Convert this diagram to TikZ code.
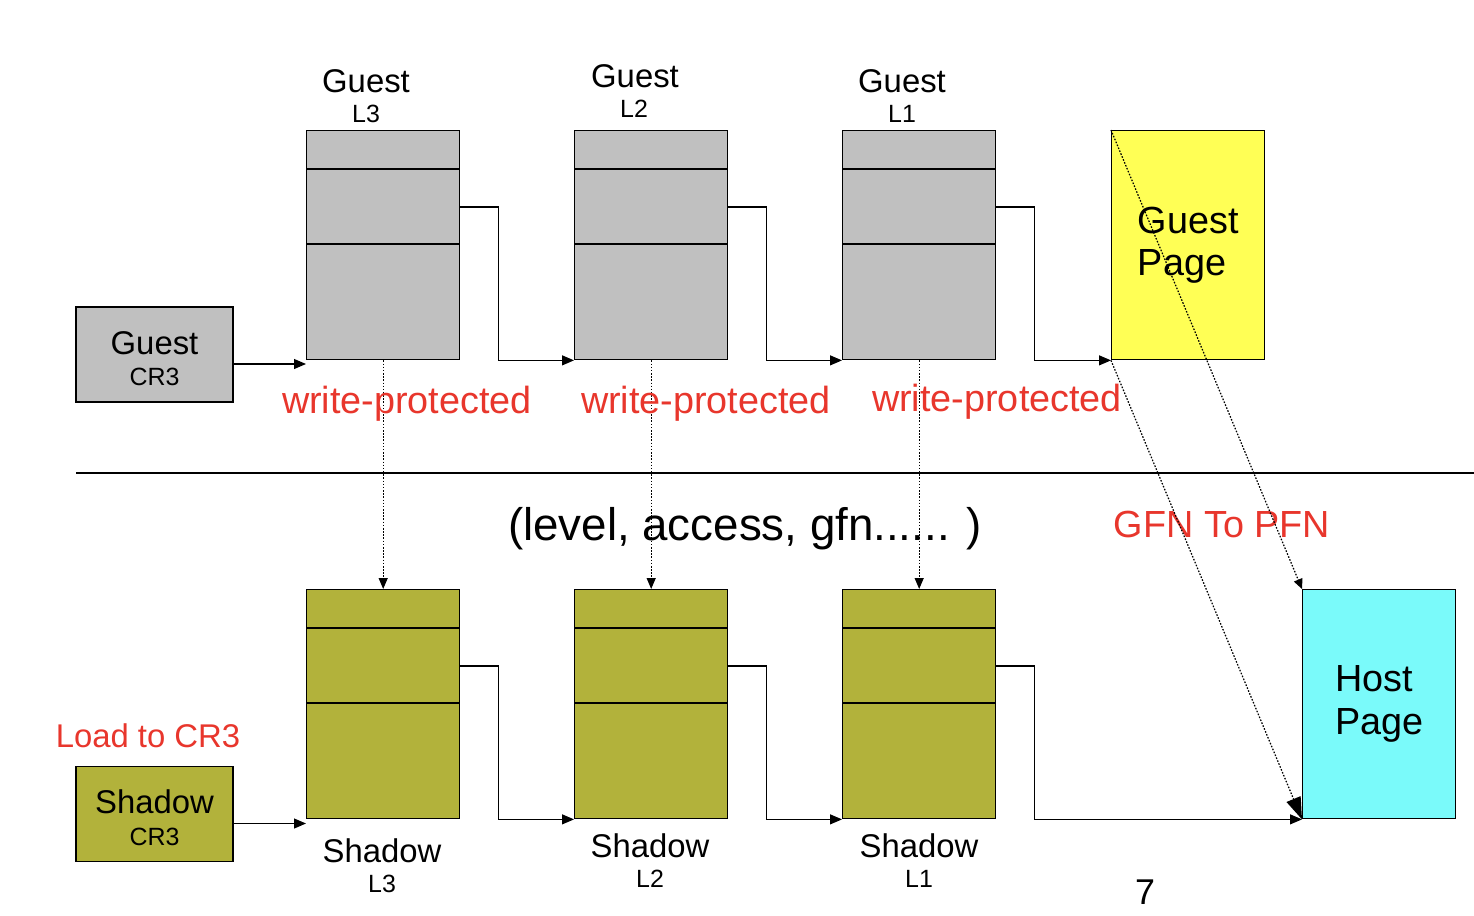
\documentclass[tikz,border=0pt]{standalone}
\usepackage{fontspec}
\setmainfont{Liberation Sans}
\usetikzlibrary{positioning,arrows.meta}
\definecolor{ptGray}{HTML}{C0C0C0}
\definecolor{ptOlive}{HTML}{B2B23B}
\definecolor{ptYellow}{HTML}{FFFF55}
\definecolor{ptCyan}{HTML}{7AFAFA}
\definecolor{ptRed}{HTML}{E8362C}
\newcommand\fLbl{\fontsize{18.7pt}{18pt}\selectfont}
\newcommand\fSub{\fontsize{14.2pt}{18pt}\selectfont}
\newcommand\fRed{\fontsize{21.5pt}{24pt}\selectfont}
\newcommand\fPage{\fontsize{21.5pt}{24.4pt}\selectfont}
\newcommand\fTuple{\fontsize{26pt}{28pt}\selectfont}

\begin{document}
\begin{tikzpicture}[x=0.02cm,y=-0.02cm,
  tbl/.style={draw,line width=0.8pt,minimum width=3.06cm,minimum height=4.58cm,inner sep=0pt,anchor=north west},
  crbox/.style={draw,line width=0.8pt,minimum width=3.14cm,minimum height=1.9cm,inner sep=0pt},
  crtext/.style={align=center,inner sep=0pt,font=\fLbl},
  pagebox/.style={draw,line width=0.8pt,minimum width=3.06cm,minimum height=4.58cm,inner sep=0pt,anchor=north west,align=left,font=\fPage},
  red/.style={text=ptRed,font=\fRed,inner sep=0pt},
  link/.style={line width=0.6pt,-{Triangle[length=2.4mm,width=2mm]}},
  dots/.style={line width=0.7pt,dash pattern=on 0.9pt off 0.9pt},
  >=Triangle]
\useasboundingbox (0,0) rectangle (1474,916);

% guest side
\node[crbox,fill=ptGray] (gcr) at (154.5,354.5) {};
\node[crtext] (gcrt) at ([yshift=-0.08cm]gcr.center) {Guest\\{\fSub CR3}};
\node[tbl,fill=ptGray] (gl3) at (306,130) {};
\node[tbl,fill=ptGray] (gl2) at (574,130) {};
\node[tbl,fill=ptGray] (gl1) at (842,130) {};
\node[pagebox,fill=ptYellow] (gp) at (1111,130) {Guest\\Page};

\node[font=\fLbl] (gl3a) at (366,81) {Guest};
\node[font=\fSub] (gl3b) at (366,114) {L3};
\node[font=\fLbl] (gl2a) at (635,76) {Guest};
\node[font=\fSub] (gl2b) at (634,109) {L2};
\node[font=\fLbl] (gl1a) at (902,81) {Guest};
\node[font=\fSub] (gl1b) at (902,114) {L1};

% shadow side
\node[crbox,fill=ptOlive] (scr) at (154.5,814) {};
\node[crtext] (scrt) at ([yshift=-0.08cm]scr.center) {Shadow\\{\fSub CR3}};
\node[tbl,fill=ptOlive] (sl3) at (306,589) {};
\node[tbl,fill=ptOlive] (sl2) at (574,589) {};
\node[tbl,fill=ptOlive] (sl1) at (842,589) {};
\node[pagebox,fill=ptCyan] (hp) at (1302,589) {Host\\Page};

\node[font=\fLbl] (sl3a) at (382,851) {Shadow};
\node[font=\fSub] (sl3b) at (382,884) {L3};
\node[font=\fLbl] (sl2a) at (650,846) {Shadow};
\node[font=\fSub] (sl2b) at (650,879) {L2};
\node[font=\fLbl] (sl1a) at (919,846) {Shadow};
\node[font=\fSub] (sl1b) at (919,879) {L1};

% rows of the tables
\foreach \t in {gl3,gl2,gl1,sl3,sl2,sl1} {
  \draw[line width=0.8pt] ([yshift=-0.78cm]\t.north west) -- ([yshift=-0.78cm]\t.north east);
  \draw[line width=0.8pt] ([yshift=-2.28cm]\t.north west) -- ([yshift=-2.28cm]\t.north east);
}

% walk links
\draw[link] ([yshift=-0.19cm]gcr.east) -- ([yshift=-0.19cm]gcr.east -| gl3.west);
\draw[link] ([yshift=-0.19cm]scr.east) -- ([yshift=-0.19cm]scr.east -| sl3.west);
\foreach \a/\b in {gl3/gl2,gl2/gl1,gl1/gp,sl3/sl2,sl2/sl1,sl1/hp}
  \draw[link] ([yshift=-1.54cm]\a.north east) -- ++(38,0) |- (\b.south west);

% write protection
\foreach \a/\b in {gl3/sl3,gl2/sl2,gl1/sl1}
  \draw[dots,-{Triangle[length=2.2mm,width=1.8mm]}] (\a.south) -- (\b.north);
\node[red] (wp3) at (407,404) {write-protected};
\node[red] (wp2) at (706,404) {write-protected};
\node[red] (wp1) at (997,402) {write-protected};

\coordinate (sepl) at (76,473);
\coordinate (sepr) at (1474,473);
\draw[line width=0.6pt] (sepl) -- (sepr);

\node[font=\fTuple,inner sep=0pt] (tup) at (745,529) {(level, access, gfn...... )};
\node[red] (g2p) at (1222,524) {GFN To PFN};
\node[red,font=\fLbl] (ld) at (148,736) {Load to CR3};

% gfn to pfn
\draw[dots,-{Triangle[length=2mm,width=1.8mm]}] (gp.north west) -- (hp.north west);
\draw[dots,-{Triangle[length=4.4mm,width=3mm]}] (gp.south west) -- (hp.south west);

\node[font=\fontsize{20.4pt}{22pt}\selectfont] (pg) at (1145,892) {7};
\end{tikzpicture}
\end{document}
